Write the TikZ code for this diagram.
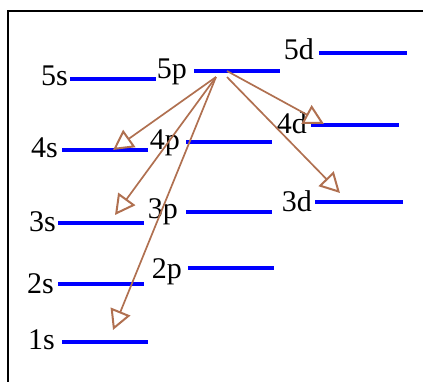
\documentclass[tikz,border=0pt]{standalone}
\usepackage{fontspec}
\setmainfont{Liberation Serif}
\usetikzlibrary{arrows.meta}
\definecolor{lvlblue}{RGB}{0,0,255}
\definecolor{trbrown}{RGB}{176,112,80}
\begin{document}
\begin{tikzpicture}[x=1pt,y=-1pt,
  level/.style={lvlblue, line width=4pt},
  lbl/.style={anchor=base east, inner sep=0pt, font=\fontsize{30}{36}\selectfont},
  trans/.style={trbrown, line width=1.7pt, -{Triangle[open,length=20pt,width=21pt,line width=2pt]}},
  frame/.style={black, line width=2pt}
]
\useasboundingbox (0,0) rectangle (423,381);
\coordinate (fbl) at (7.5,390);
\coordinate (ftr) at (440,10.5);
\draw[frame] (fbl) |- (ftr);
\foreach \n/\xa/\xb/\y/\lx/\ly in {
  5s/70/156/79/68/85,
  5p/194/280/71/187/78,
  5d/319/407/53/314/59,
  4s/62/148/150/58/157,
  4p/186/272/142/180/149,
  4d/311/399/125/307/133,
  3s/58/144/223/56/231,
  3p/186/272/212/178/218,
  3d/315/403/202/312/211,
  2s/58/144/284/54/293,
  2p/188/274/268/182/278,
  1s/62/148/342/55/349}{
  \coordinate (\n-l) at (\xa,\y);
  \coordinate (\n-r) at (\xb,\y);
  \draw[level] (\n-l) -- (\n-r);
  \node[lbl] (\n-t) at (\lx,\ly) {\n};
}
\coordinate (srcA) at (216,77);
\coordinate (srcB) at (227,71);
\coordinate (srcC) at (227,77);
\coordinate (t4s) at (113,150);
\coordinate (t3s) at (115,215);
\coordinate (t1s) at (113,330);
\coordinate (t4d) at (324,124);
\coordinate (t3d) at (340,193);
\draw[trans] (srcA) -- (t4s);
\draw[trans] (srcA) -- (t3s);
\draw[trans] (srcA) -- (t1s);
\draw[trans] (srcB) -- (t4d);
\draw[trans] (srcC) -- (t3d);
\end{tikzpicture}
\end{document}
